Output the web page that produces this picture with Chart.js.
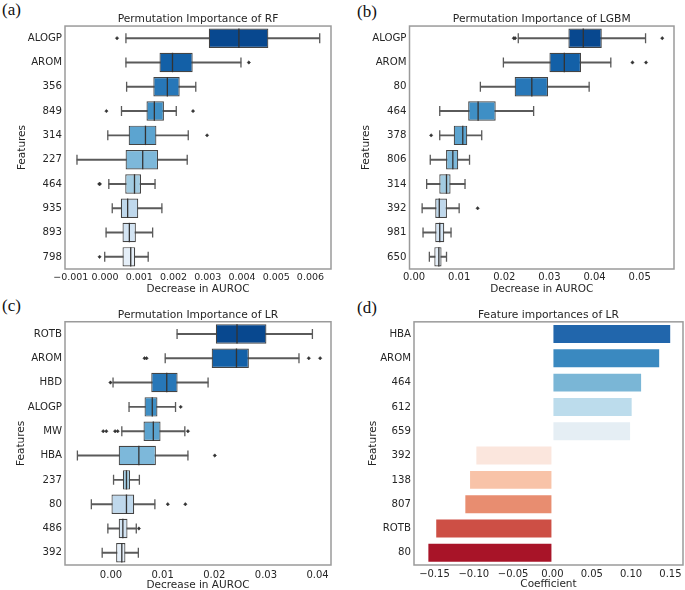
<!DOCTYPE html>
<html>
<head>
<meta charset="utf-8">
<script src="https://cdn.jsdelivr.net/npm/chart.js@4.4.1/dist/chart.umd.min.js"></script>
<style>
  body { margin: 0; background: #fff; width: 685px; height: 590px; position: relative; overflow: hidden; }
  canvas { position: absolute; }
  .tag { position: absolute; font-family: "Liberation Serif", "Times New Roman", serif; font-size: 17px; line-height: 17px; color: #111; }
</style>
</head>
<body>
<div class="tag" style="left:2px;top:1px">(a)</div>
<div class="tag" style="left:357px;top:3px">(b)</div>
<div class="tag" style="left:2px;top:297px">(c)</div>
<div class="tag" style="left:357px;top:299px">(d)</div>

<canvas id="rfChart" width="342" height="300" style="left:0;top:0"></canvas>
<canvas id="lgbmChart" width="340" height="300" style="left:345px;top:0"></canvas>
<canvas id="lrChart" width="342" height="305" style="left:0;top:290px"></canvas>
<canvas id="coefChart" width="340" height="305" style="left:345px;top:290px"></canvas>

<script>
// (a) permutation importance of RF
const rfFeatures = ["ALOGP", "AROM", "356", "849", "314", "227", "464", "935", "893", "798"];
const rfLo  = [0.00061, 0.00061, 0.00063, 0.00048, 0.00008, -0.00082, 0.00011, 0.00021, 0.00003, -0.00001];
const rfQ1  = [0.00303, 0.00159, 0.00141, 0.00121, 0.00069, 0.00060, 0.00059, 0.00046, 0.00051, 0.00051];
const rfMed = [0.00391, 0.00197, 0.00182, 0.00144, 0.00118, 0.00110, 0.00086, 0.00066, 0.00071, 0.00075];
const rfQ3  = [0.00477, 0.00256, 0.00218, 0.00172, 0.00150, 0.00155, 0.00105, 0.00097, 0.00090, 0.00088];
const rfHi  = [0.00627, 0.00397, 0.00265, 0.00208, 0.00243, 0.00240, 0.00146, 0.00166, 0.00139, 0.00126];
const rfOut = [[0.00035], [0.0042], [], [0.00004, 0.00257], [0.00298], [], [-0.00017, -0.00015], [], [], [-0.00016]];
const rfTicks = [-0.001, 0, 0.001, 0.002, 0.003, 0.004, 0.005, 0.006];

// (b) permutation importance of LGBM
const lgbmFeatures = ["ALOGP", "AROM", "80", "464", "378", "806", "314", "392", "981", "650"];
const lgbmLo  = [0.0231, 0.0198, 0.0147, 0.0057, 0.0057, 0.0036, 0.0028, 0.0018, 0.0020, 0.0034];
const lgbmQ1  = [0.0342, 0.0300, 0.0223, 0.0120, 0.0088, 0.0071, 0.0056, 0.0047, 0.0047, 0.0045];
const lgbmMed = [0.0375, 0.0333, 0.0261, 0.0142, 0.0108, 0.0086, 0.0072, 0.0056, 0.0057, 0.0055];
const lgbmQ3  = [0.0416, 0.0370, 0.0297, 0.0181, 0.0118, 0.0098, 0.0081, 0.0073, 0.0067, 0.0061];
const lgbmHi  = [0.0513, 0.0436, 0.0388, 0.0265, 0.0150, 0.0123, 0.0113, 0.0100, 0.0082, 0.0072];
const lgbmOut = [[0.0221, 0.0224, 0.0550], [0.0484, 0.0514], [], [], [0.0038], [], [], [0.0141], [], []];
const lgbmTicks = [0, 0.01, 0.02, 0.03, 0.04, 0.05];

// (c) permutation importance of LR
const lrFeatures = ["ROTB", "AROM", "HBD", "ALOGP", "MW", "HBA", "237", "80", "486", "392"];
const lrLo  = [0.0128, 0.0105, 0.0004, 0.0035, 0.0021, -0.0065, 0.0005, -0.0038, -0.0006, -0.0017];
const lrQ1  = [0.0203, 0.0195, 0.0078, 0.0065, 0.0063, 0.0015, 0.0023, 0.0001, 0.0015, 0.0010];
const lrMed = [0.0244, 0.0243, 0.0108, 0.0080, 0.0082, 0.0054, 0.0030, 0.0030, 0.0023, 0.0021];
const lrQ3  = [0.0301, 0.0267, 0.0129, 0.0090, 0.0096, 0.0087, 0.0037, 0.0045, 0.0032, 0.0028];
const lrHi  = [0.0390, 0.0364, 0.0188, 0.0125, 0.0143, 0.0149, 0.0055, 0.0085, 0.0049, 0.0053];
const lrOut = [[], [0.0065, 0.0069, 0.0383, 0.0405], [-0.0001], [0.0135], [-0.0015, -0.0009, 0.0008, 0.0013, 0.0149],
               [0.0201], [], [0.0110, 0.0144], [0.0054], []];
const lrTicks = [0, 0.01, 0.02, 0.03, 0.04];

// (d) LR coefficients
const coefFeatures = ["HBA", "AROM", "464", "612", "659", "392", "138", "807", "ROTB", "80"];
const coefValues = [0.151, 0.137, 0.114, 0.102, 0.100, -0.098, -0.106, -0.112, -0.149, -0.159];
const coefTicks = [-0.15, -0.10, -0.05, 0, 0.05, 0.10, 0.15];

const bluesR = ["#08488f", "#1360a7", "#2777b8", "#3f8fc5", "#5ca4d0", "#7db8da", "#a2cce2", "#bfd8ec", "#d3e4f3", "#e5eff9"];
const rdbu = ["#2166ac", "#3a89c0", "#7ab6d6", "#bcdcec", "#e5eef4", "#fbe6dd", "#f8c3a8", "#e88d70", "#cd4f45", "#a81428"];

Chart.defaults.font.family = "'DejaVu Sans', sans-serif";
Chart.defaults.font.size = 10.5;
Chart.defaults.color = "#262626";

// grey frame round the plot area (seaborn spines)
const framePlugin = {
  id: "frame",
  afterDatasetsDraw(chart) {
    const a = chart.chartArea;
    const ctx = chart.ctx;
    ctx.save();
    ctx.strokeStyle = "#9a9a9a";
    ctx.lineWidth = 1.5;
    ctx.strokeRect(a.left, a.top, a.right - a.left, a.bottom - a.top);
    ctx.restore();
  },
};

function fmt(digits) {
  return (v) => (v < 0 ? "\u2212" : "") + Math.abs(v).toFixed(digits);
}

function pts(features, values) {
  return features.map((f, i) => ({ x: values[i], y: f }));
}

function boxDatasets(features, lo, q1, med, q3, hi, out) {
  const outliers = features.flatMap((f, i) => out[i].map((v) => ({ x: v, y: f })));
  return [
    {
      type: "bar", order: 3, grouped: false,
      data: features.map((f, i) => [lo[i], hi[i]]),
      backgroundColor: "#5a5a5a", barThickness: 1.3,
    },
    {
      type: "bar", order: 2, grouped: false,
      data: features.map((f, i) => [q1[i], q3[i]]),
      backgroundColor: bluesR, borderColor: "#444", borderWidth: 1.2, borderSkipped: false,
      barPercentage: 0.8, categoryPercentage: 1,
    },
    {
      type: "scatter", order: 1, data: pts(features, med),
      pointStyle: "line", rotation: 90, radius: 9.7, borderColor: "#333", borderWidth: 1.3,
    },
    {
      type: "scatter", order: 1, data: pts(features, lo).concat(pts(features, hi)),
      pointStyle: "line", rotation: 90, radius: 5, borderColor: "#5a5a5a", borderWidth: 1.3,
    },
    {
      type: "scatter", order: 1, data: outliers,
      pointStyle: "rectRot", radius: 1.7, backgroundColor: "#333", borderColor: "#333", borderWidth: 0.5,
    },
  ];
}

function makeChart(id, features, datasets, p) {
  return new Chart(document.getElementById(id), {
    type: "bar",
    data: { labels: features, datasets: datasets },
    plugins: [framePlugin],
    options: {
      indexAxis: "y",
      responsive: false,
      animation: false,
      layout: { padding: { top: 0, right: p.padRight, bottom: 0, left: 0 } },
      plugins: {
        legend: { display: false },
        tooltip: { enabled: false },
        title: {
          display: true, text: p.title, fullSize: false,
          font: { size: 10.7, weight: "normal" }, color: "#262626",
          padding: { top: p.titleTop, bottom: p.titleBottom },
        },
      },
      scales: {
        x: {
          type: "linear", min: p.min, max: p.max,
          afterBuildTicks: (scale) => { scale.ticks = p.ticks.map((v) => ({ value: v })); },
          afterFit: (scale) => { scale.height = p.xHeight; },
          ticks: { callback: fmt(p.digits), padding: p.xTickPad, maxRotation: 0, autoSkip: false,
                   color: "#262626", font: { size: p.tickSize } },
          grid: { display: false, drawTicks: false },
          border: { display: false },
          title: { display: true, text: p.xTitle, font: { size: 10.5 }, padding: { top: 0, bottom: p.xTitlePad } },
        },
        y: {
          type: "category", offset: true,
          afterFit: (scale) => { scale.width = p.yWidth; },
          ticks: { padding: 3, color: "#262626", autoSkip: false, font: { size: 10.2 } },
          grid: { display: false, drawTicks: false },
          border: { display: false },
          title: { display: true, text: "Features", font: { size: 10.5 }, padding: { top: p.yTitlePad, bottom: 0 } },
        },
      },
    },
  });
}

makeChart("rfChart", rfFeatures,
  boxDatasets(rfFeatures, rfLo, rfQ1, rfMed, rfQ3, rfHi, rfOut), {
    title: "Permutation Importance of RF", xTitle: "Decrease in AUROC",
    min: -0.00117, max: 0.0066, ticks: rfTicks, digits: 3, tickSize: 9.5,
    padRight: 9, yWidth: 65, xHeight: 31, titleTop: 12.6, titleBottom: 0.6,
    xTickPad: 2.6, xTitlePad: 4.7, yTitlePad: 15.7,
  });

makeChart("lgbmChart", lgbmFeatures,
  boxDatasets(lgbmFeatures, lgbmLo, lgbmQ1, lgbmMed, lgbmQ3, lgbmHi, lgbmOut), {
    title: "Permutation Importance of LGBM", xTitle: "Decrease in AUROC",
    min: -0.001, max: 0.0576, ticks: lgbmTicks, digits: 2, tickSize: 10,
    padRight: 7, yWidth: 64.5, xHeight: 31, titleTop: 12.6, titleBottom: 0.6,
    xTickPad: 2.3, xTitlePad: 4.7, yTitlePad: 15.4,
  });

makeChart("lrChart", lrFeatures,
  boxDatasets(lrFeatures, lrLo, lrQ1, lrMed, lrQ3, lrHi, lrOut), {
    title: "Permutation Importance of LR", xTitle: "Decrease in AUROC",
    min: -0.0089, max: 0.0426, ticks: lrTicks, digits: 2, tickSize: 10,
    padRight: 9, yWidth: 65, xHeight: 30, titleTop: 18.6, titleBottom: 0.3,
    xTickPad: 4, xTitlePad: 3.7, yTitlePad: 15.4,
  });

makeChart("coefChart", coefFeatures, [
  {
    data: coefValues, backgroundColor: rdbu, borderColor: "#ffffff", borderWidth: 1,
    borderSkipped: false, barPercentage: 0.82, categoryPercentage: 1,
  },
], {
  title: "Feature importances of LR", xTitle: "Coefficient",
  min: -0.176, max: 0.166, ticks: coefTicks, digits: 2, tickSize: 10,
  padRight: 2, yWidth: 69, xHeight: 30, titleTop: 19, titleBottom: 0,
  xTickPad: 3, xTitlePad: 4.7, yTitlePad: 22,
});
</script>
</body>
</html>
